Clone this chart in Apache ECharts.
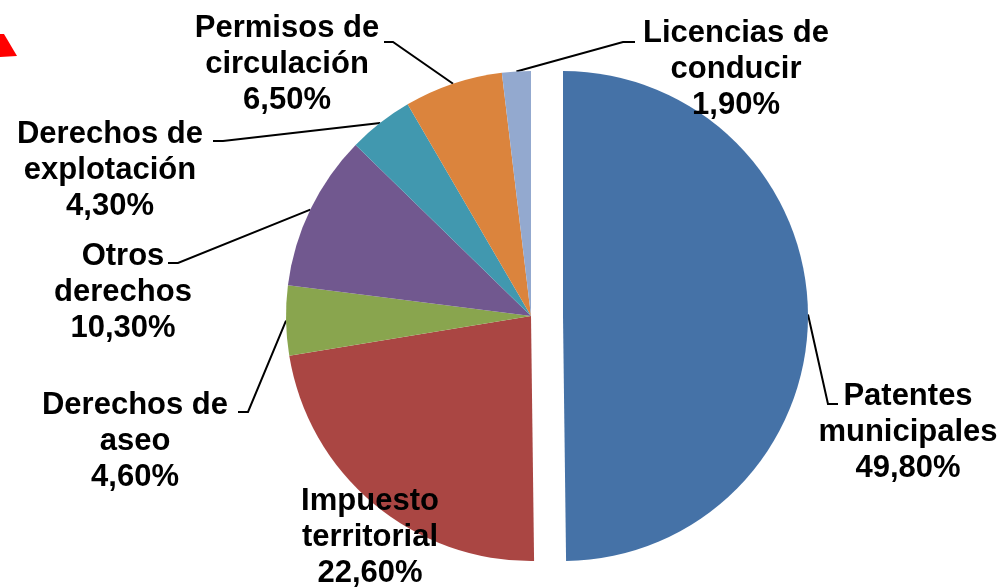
<!DOCTYPE html>
<html lang="es">
<head>
    <meta charset="UTF-8">
    <title>Ingresos</title>
    <script type="text/javascript" src="https://cdn.jsdelivr.net/npm/echarts@6/dist/echarts.min.js"></script>
    <style>
        html, body { margin: 0; padding: 0; background: #fff; }
        #chart { width: 1004px; height: 587px; }
    </style>
</head>
<body>
<div id="chart"></div>
<script>
    var categories = ['Patentes\nmunicipales', 'Impuesto\nterritorial', 'Derechos de\naseo', 'Otros\nderechos',
        'Derechos de\nexplotación', 'Permisos de\ncirculación', 'Licencias de\nconducir'];
    var values = [49.8, 22.6, 4.6, 10.3, 4.3, 6.5, 1.9];
    var colors = ['#4572A7', '#AA4643', '#89A54E', '#71588F', '#4198AF', '#DB843D', '#93A9CF'];
    var exploded = 0; // index of the slice pulled out of the pie

    // where each label sits (centre of text block) and the bend/end of its leader line
    var labelPos = [
        {x: 908, y: 432, bend: [828, 404], end: [838, 404]},
        {x: 370, y: 537},
        {x: 135, y: 441, bend: [248, 412], end: [238, 412]},
        {x: 123, y: 292, bend: [178, 263], end: [168, 263]},
        {x: 110, y: 170, bend: [223, 141], end: [213, 141]},
        {x: 287, y: 64, bend: [393, 42], end: [384, 42]},
        {x: 736, y: 69, bend: [623, 42], end: [635, 42]}
    ];

    var myChart = echarts.init(document.getElementById('chart'));

    function makeSeries(center, showIdx) {
        return {
            type: 'pie',
            center: center,
            radius: 245,
            startAngle: 90,
            clockwise: true,
            silent: true,
            avoidLabelOverlap: false,
            itemStyle: {borderWidth: 0},
            label: {
                show: true,
                formatter: function (p) {
                    return p.name + '\n' + p.value.toFixed(2).replace('.', ',') + '%';
                },
                fontFamily: 'Liberation Sans, Arial, sans-serif',
                fontWeight: 'bold',
                fontSize: 31,
                lineHeight: 36,
                color: '#000',
                align: 'center'
            },
            labelLine: {
                show: true,
                length: 20,
                length2: 10,
                lineStyle: {color: '#000', width: 2}
            },
            labelLayout: function (p) {
                var L = labelPos[p.dataIndex];
                var res = {x: L.x, y: L.y, align: 'center', verticalAlign: 'middle'};
                if (L.bend && p.labelLinePoints) {
                    res.labelLinePoints = [p.labelLinePoints[0], L.bend, L.end];
                }
                return res;
            },
            data: values.map(function (v, i) {
                var d = {name: categories[i], value: v, itemStyle: {color: colors[i]}};
                if (!showIdx(i)) {
                    d.itemStyle = {color: 'rgba(0,0,0,0)'};
                    d.label = {show: false};
                    d.labelLine = {show: false};
                } else if (!labelPos[i].bend) {
                    d.labelLine = {show: false};
                }
                return d;
            })
        };
    }

    var option = {
        animation: false,
        backgroundColor: '#fff',
        graphic: [{
            type: 'polygon',
            shape: {points: [[0, 34], [4, 34], [17, 56], [0, 57]]},
            style: {fill: '#ff0000'}
        }],
        series: [
            makeSeries([531, 316], function (i) { return i !== exploded; }),
            makeSeries([563, 316], function (i) { return i === exploded; })
        ]
    };
    myChart.setOption(option);
</script>
</body>
</html>
